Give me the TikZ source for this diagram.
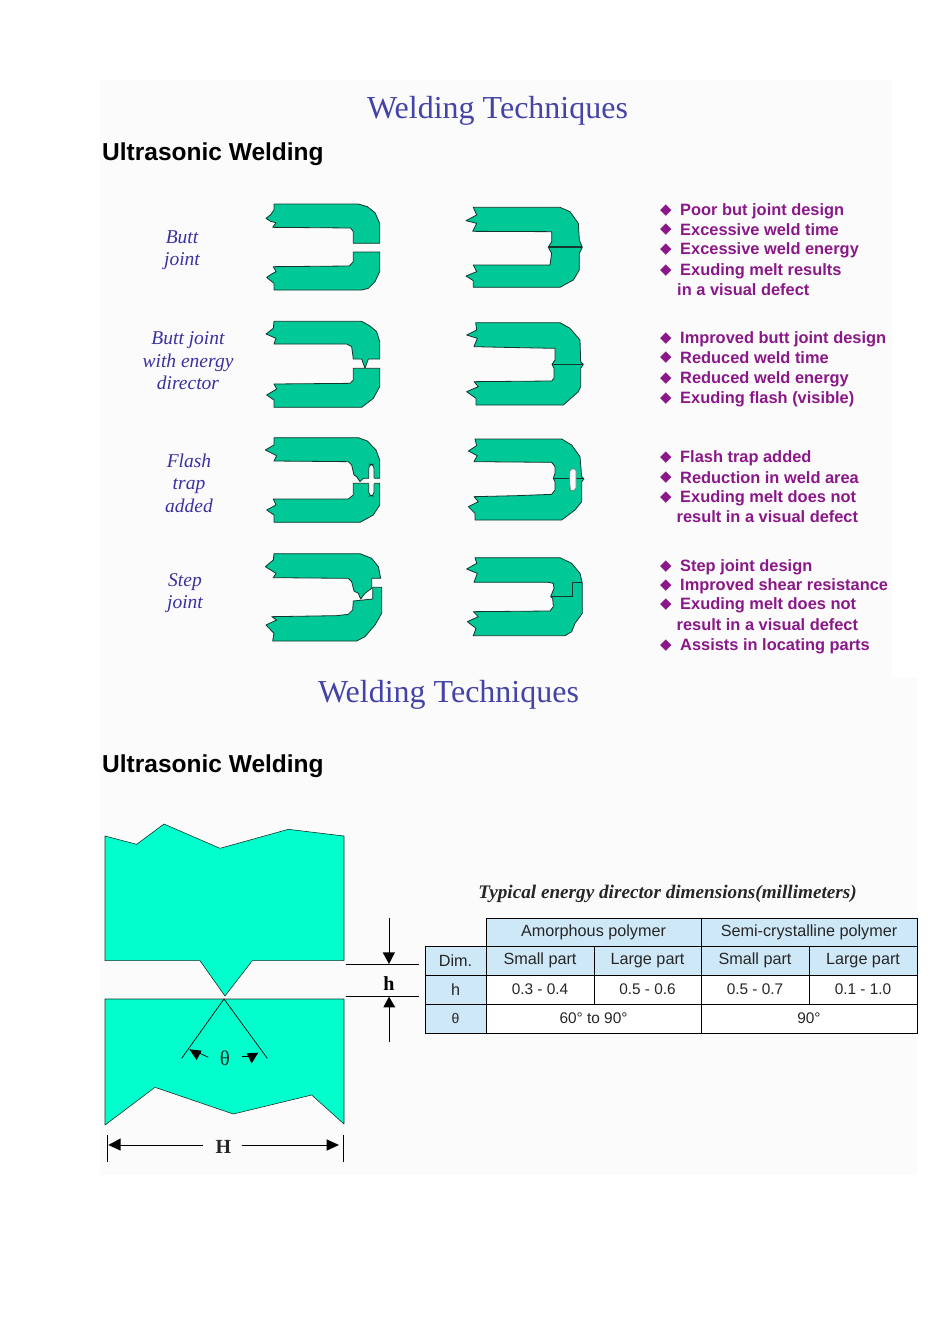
\documentclass[tikz,border=0pt]{standalone}
\usepackage{fontspec}
\setmainfont{Liberation Serif}
\setsansfont{Liberation Sans}
\newfontfamily\dvfont{DejaVu Sans}
\definecolor{panel}{HTML}{FBFBFB}
\definecolor{titleblue}{HTML}{4343A8}
\definecolor{labelblue}{HTML}{3A30A0}
\definecolor{bulletpurple}{HTML}{8A1888}
\definecolor{weldgreen}{HTML}{00C896}
\definecolor{aqua}{HTML}{00FFCC}
\definecolor{cellblue}{HTML}{CFE8F7}
\definecolor{edge}{HTML}{14352C}
\newcommand{\fsz}[1]{\fontsize{#1}{#1}\selectfont}
\tikzset{
  titletext/.style={text=titleblue,font=\rmfamily\fsz{32},inner sep=0pt},
  headtext/.style={text=black,font=\sffamily\bfseries\fsz{24.5},inner sep=0pt,anchor=west},
  sidelabel/.style={text=labelblue,font=\rmfamily\itshape\fsz{19.5},inner sep=0pt,align=center},
  bullettext/.style={text=bulletpurple,font=\sffamily\bfseries\fsz{16.4},inner sep=0pt,anchor=west},
  bulletmark/.style={text=bulletpurple,font=\dvfont\fsz{15},inner sep=0pt},
  weld/.style={fill=weldgreen,draw=edge,line width=0.8pt,line join=round},
  slot/.style={fill=panel,draw=edge,line width=0.7pt,rounded corners=4pt},
  seam/.style={draw=edge,line width=0.9pt},
  block/.style={fill=aqua,draw=edge,line width=0.6pt,line join=round},
  dimline/.style={draw=black,line width=0.7pt},
  dimtip/.style={fill=black},
  cellb/.style={draw=black,line width=0.9pt,fill=cellblue,inner sep=0pt,font=\sffamily\fsz{16.2},text=black!85},
  cellw/.style={draw=black,line width=0.9pt,fill=white,inner sep=0pt,font=\sffamily\fsz{15.4},text=black!85},
}
\begin{document}
\begin{tikzpicture}[x=1pt,y=-1pt]
\useasboundingbox (0,0) rectangle (950,1344);
\fill[white] (0,0) rectangle (950,1344);
\fill[panel] (100,80) rectangle (892,678);
\fill[panel] (100,678) rectangle (917,1175);

\node[titletext] (title1) at (497.5,111) {Welding Techniques};
\node[headtext] (head1) at (102,154) {Ultrasonic Welding};
\node[titletext] (title2) at (448.5,695) {Welding Techniques};
\node[headtext] (head2) at (102,766) {Ultrasonic Welding};

\node[sidelabel] (l1) at (182,250) {Butt\\[3pt]joint};
\node[sidelabel] (l2) at (188,361) {Butt joint\\[3pt]with energy\\[3pt]director};
\node[sidelabel] (l3) at (189,483) {Flash\\[3pt]trap\\[3pt]added};
\node[sidelabel] (l4) at (185,593) {Step\\[3pt]joint};

% rows 1 and 2
\begin{scope}[shift={(250,190)},x=0.33333pt,y=-0.33333pt]
\draw[weld] (72,42)--(325,42)--(352,50)--(375,68)--(389,100)--(389,160)--(310,160)--(310,125)--(302,114)--(68,112)--(78,98)--(62,94)--(48,85)--(62,74)--(72,60)--cycle;
\draw[weld] (310,186)--(389,186)--(389,245)--(375,275)--(355,295)--(335,300)--(72,300)--(72,280)--(62,272)--(50,262)--(65,252)--(78,245)--(70,230)--(298,228)--(310,215)--cycle;
\draw[weld] (670,52)--(930,52)--(960,65)--(985,100)--(988,150)--(997,172)--(988,190)--(988,240)--(970,270)--(930,292)--(670,292)--(670,272)--(648,258)--(680,245)--(670,225)--(900,225)--(905,190)--(895,172)--(905,155)--(905,125)--(668,124)--(680,100)--(648,92)--(680,75)--cycle;
\draw[seam,line width=1.7pt] (895,172)--(997,172);
\draw[weld] (72,394)--(335,394)--(360,408)--(380,425)--(389,455)--(389,507)--(355,507)--(345,535)--(335,507)--(310,507)--(305,470)--(290,462)--(72,462)--(78,445)--(48,432)--(70,415)--cycle;
\draw[weld] (310,535)--(389,535)--(389,590)--(370,625)--(335,652)--(72,652)--(72,630)--(50,615)--(80,597)--(72,582)--(300,580)--(310,570)--cycle;
\draw[weld] (677,398)--(930,398)--(960,415)--(990,450)--(992,515)--(1000,523)--(992,535)--(992,590)--(985,605)--(940,645)--(678,645)--(678,625)--(650,605)--(685,590)--(672,575)--(905,573)--(912,565)--(912,535)--(906,523)--(915,510)--(915,475)--(760,472)--(672,470)--(682,445)--(650,435)--(680,420)--cycle;
\draw[seam] (906,523)--(1000,523);
\end{scope}

% rows 3 and 4
\begin{scope}[shift={(250,425)},x=0.33333pt,y=-0.33333pt]
\draw[weld] (72,38)--(325,38)--(352,48)--(378,75)--(389,105)--(389,160)--(340,160)--(330,170)--(320,155)--(312,150)--(305,120)--(295,110)--(72,108)--(80,92)--(46,75)--(72,60)--cycle;
\draw[weld] (310,175)--(389,175)--(389,240)--(370,270)--(330,292)--(72,292)--(72,270)--(50,255)--(78,240)--(70,222)--(295,222)--(310,210)--cycle;
\draw[slot] (356,160)--(356,118)--(372,118)--(372,160);
\draw[slot] (356,175)--(356,213)--(372,213)--(372,175);
\fill[panel] (357,158) rectangle (371,177);
\draw[weld] (675,42)--(935,42)--(965,60)--(990,95)--(995,155)--(1002,162)--(995,170)--(995,230)--(975,255)--(935,285)--(675,285)--(675,265)--(655,245)--(685,230)--(672,215)--(800,212)--(905,208)--(915,195)--(915,170)--(910,160)--(915,145)--(915,125)--(905,112)--(672,110)--(682,92)--(655,78)--(680,62)--cycle;
\draw[seam] (910,160)--(1002,160);
\draw[slot,draw=black!50,rounded corners=2pt] (960,132)--(978,132)--(978,195)--(962,198)--(958,165)--cycle;
\draw[weld] (72,386)--(330,386)--(365,400)--(385,425)--(392,460)--(365,460)--(365,490)--(345,505)--(332,522)--(325,505)--(312,498)--(305,470)--(295,460)--(70,458)--(78,445)--(46,425)--(70,405)--cycle;
\draw[weld] (310,528)--(368,522)--(368,487)--(395,487)--(395,565)--(375,600)--(345,635)--(320,648)--(68,648)--(72,625)--(48,600)--(80,585)--(65,575)--(260,572)--(295,568)--(308,555)--cycle;
\draw[weld] (675,398)--(930,398)--(965,415)--(990,445)--(997,475)--(997,565)--(975,595)--(965,620)--(945,632)--(670,632)--(678,610)--(652,590)--(685,575)--(670,560)--(900,558)--(910,545)--(908,520)--(902,515)--(912,490)--(910,475)--(895,472)--(672,472)--(682,445)--(650,432)--(680,415)--cycle;
\draw[seam] (902,513)--(968,513)--(968,473)--(997,473);
\end{scope}

% bullet lists
\foreach \yy/\tt in {211/Poor but joint design,230/Excessive weld time,250/Excessive weld energy,271/Exuding melt results,339/Improved butt joint design,358/Reduced weld time,379/Reduced weld energy,399/Exuding flash (visible),458/Flash trap added,478/Reduction in weld area,498/Exuding melt does not,567/Step joint design,586/Improved shear resistance,605/Exuding melt does not,646/Assists in locating parts}{
  \node[bulletmark] (m\yy) at (666,\yy) {◆};
  \node[bullettext] (b\yy) at (680,\yy) {\tt};
}
\node[bullettext] (c1) at (677,290) {in a visual defect};
\node[bullettext] (c2) at (676.5,517) {result in a visual defect};
\node[bullettext] (c3) at (676.5,625) {result in a visual defect};

% energy director drawing
\begin{scope}[shift={(90,810)},x=0.33333pt,y=-0.33333pt]
\draw[block] (45,78)--(140,103)--(222,42)--(390,115)--(595,58)--(762,78)--(762,452)--(487,452)--(405,558)--(330,452)--(45,452)--cycle;
\draw[block] (45,567)--(762,567)--(762,942)--(665,855)--(430,912)--(195,832)--(45,945)--cycle;
\coordinate (apex) at (402,567);
\coordinate (vl) at (275,745);
\coordinate (vr) at (532,745);
\draw[dimline] (vl)--(apex)--(vr);
\draw[dimline] (330,730)--(355,742);
\fill[dimtip] (298,718)--(335,722)--(320,750)--cycle;
\draw[dimline] (455,740)--(480,740);
\fill[dimtip] (470,730)--(505,728)--(485,760)--cycle;
\node[inner sep=0pt,font=\rmfamily\fsz{21},text=black!85] (theta) at (405,745) {θ};
% h dimension
\draw[dimline] (767,463)--(988,463);
\draw[dimline] (767,560)--(988,560);
\draw[dimline] (897,325)--(897,440);
\fill[dimtip] (878,427)--(915,427)--(897,462)--cycle;
\draw[dimline] (897,585)--(897,695);
\fill[dimtip] (880,592)--(916,592)--(897,560)--cycle;
\node[inner sep=0pt,font=\rmfamily\bfseries\fsz{20}] (hlab) at (897,522) {h};
% H dimension
\draw[dimline] (52,975)--(52,1055);
\draw[dimline] (760,975)--(760,1055);
\draw[dimline] (80,1005)--(340,1005);
\draw[dimline] (455,1005)--(725,1005);
\fill[dimtip] (55,1005)--(92,985)--(92,1022)--cycle;
\fill[dimtip] (747,1005)--(710,988)--(710,1022)--cycle;
\node[inner sep=0pt,font=\rmfamily\bfseries\fsz{20},text=black!85] (Hlab) at (400,1010) {H};
\end{scope}

% table
\node[inner sep=0pt,font=\rmfamily\bfseries\itshape\fsz{19.2},text=black!85] (cap) at (667.5,894) {Typical energy director dimensions(millimeters)};
\node[cellb,minimum width=215pt,minimum height=28pt] (amor) at (593.5,932) {Amorphous polymer};
\node[cellb,minimum width=216pt,minimum height=28pt] (semi) at (809,932) {Semi-crystalline polymer};
\node[cellb,minimum width=61pt,minimum height=29pt] (dim) at (455.5,960.5) {Dim.};
\node[cellb,minimum width=108pt,minimum height=29pt] (s1) at (540,960.5) {Small part};
\node[cellb,minimum width=107pt,minimum height=29pt] (l1c) at (647.5,960.5) {Large part};
\node[cellb,minimum width=108pt,minimum height=29pt] (s2) at (755,960.5) {Small part};
\node[cellb,minimum width=108pt,minimum height=29pt] (l2c) at (863,960.5) {Large part};
\node[cellb,minimum width=61pt,minimum height=29pt] (hrow) at (455.5,989.5) {h};
\node[cellw,minimum width=108pt,minimum height=29pt] (v1) at (540,989.5) {0.3 - 0.4};
\node[cellw,minimum width=107pt,minimum height=29pt] (v2) at (647.5,989.5) {0.5 - 0.6};
\node[cellw,minimum width=108pt,minimum height=29pt] (v3) at (755,989.5) {0.5 - 0.7};
\node[cellw,minimum width=108pt,minimum height=29pt] (v4) at (863,989.5) {0.1 - 1.0};
\node[cellb,minimum width=61pt,minimum height=29pt,font=\sffamily\fsz{14}] (trow) at (455.5,1018.5) {θ};
\node[cellw,minimum width=215pt,minimum height=29pt] (a1) at (593.5,1018.5) {60° to 90°};
\node[cellw,minimum width=216pt,minimum height=29pt] (a2) at (809,1018.5) {90°};
\end{tikzpicture}
\end{document}
